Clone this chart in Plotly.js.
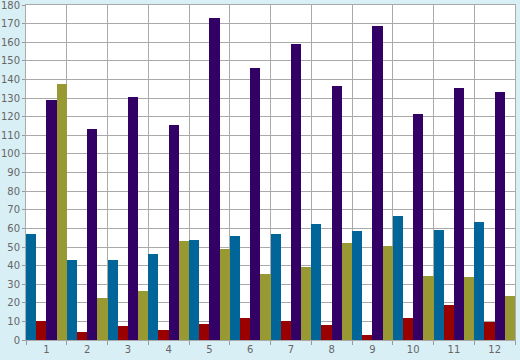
<!DOCTYPE html>
<html><head><meta charset="utf-8">
<script src="https://cdn.plot.ly/plotly-3.0.1.min.js"></script>
<style>html,body{margin:0;padding:0;background:#d9eff6;}#c{width:520px;height:360px;}</style>
</head><body><div id="c"></div>
<script>
const categories = ['1','2','3','4','5','6','7','8','9','10','11','12'];
const seriesBlue   = [57, 43, 43, 46.2, 53.7, 55.9, 57, 62.3, 58.6, 66.6, 59.1, 63.4];
const seriesRed    = [10.2, 4.3, 7.5, 5.4, 8.6, 11.8, 10.2, 8.1, 2.7, 11.8, 18.8, 9.7];
const seriesPurple = [129, 113.4, 130.6, 115.5, 173, 146.2, 159, 136.5, 168.7, 121.4, 135.4, 133.3];
const seriesOlive  = [137.5, 22.6, 26.3, 53.2, 48.9, 35.5, 39.2, 52.1, 50.5, 34.4, 33.9, 23.6];
const yTicks = [0,10,20,30,40,50,60,70,80,90,100,110,120,130,140,150,160,170,180];

const mk = (y, c) => ({type:'bar', x:categories, y:y, marker:{color:c, line:{width:0}}, hoverinfo:'none'});
const data = [mk(seriesBlue,'#006699'), mk(seriesRed,'#990000'), mk(seriesPurple,'#330066'), mk(seriesOlive,'#999933')];

const tf = {family:'DejaVu Sans', size:10, color:'#666666'};
const layout = {
  width:520, height:360,
  margin:{l:26, r:5, t:5, b:20, pad:0},
  paper_bgcolor:'#d9eff6', plot_bgcolor:'#ffffff',
  showlegend:false, barmode:'group', bargap:0, bargroupgap:0,
  font:tf,
  xaxis:{type:'category', tickson:'boundaries', showgrid:true, gridcolor:'#aaaaaa', gridwidth:1,
         ticks:'outside', ticklen:4, tickcolor:'#999999', showline:true, linecolor:'#aaaaaa', mirror:true,
         zeroline:false, tickfont:tf},
  yaxis:{range:[0,180.1], tickmode:'array', tickvals:yTicks, showgrid:true, gridcolor:'#aaaaaa', gridwidth:1,
         ticks:'outside', ticklen:3, tickcolor:'#999999', showline:true, linecolor:'#aaaaaa', mirror:true,
         zeroline:false, ticklabelstandoff:0, ticklabeloverflow:'allow', tickfont:tf}
};
Plotly.newPlot('c', data, layout, {staticPlot:true, displayModeBar:false});
</script></body></html>
